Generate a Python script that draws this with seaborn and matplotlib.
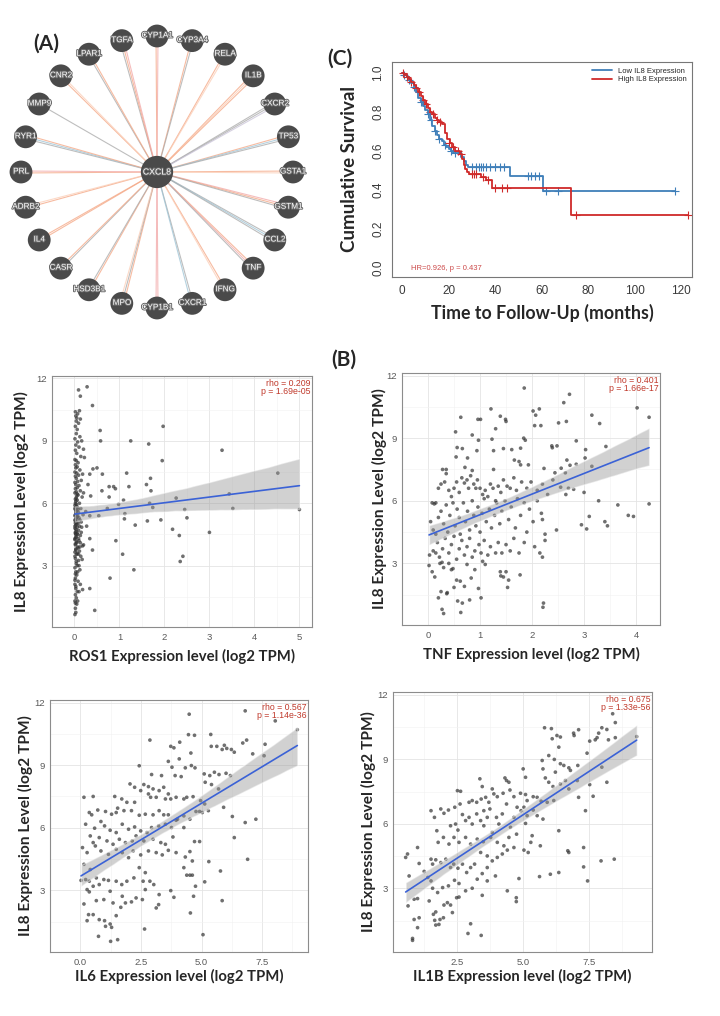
import numpy as np
import matplotlib
matplotlib.use("Agg")
import matplotlib.pyplot as plt
import matplotlib.patheffects as pe
import seaborn as sns

W, H = 720, 1016

# ---------------- (A) interaction network ----------------
hub = "CXCL8"
partners = ["CYP1A1", "CYP3A4", "RELA", "IL1B", "CXCR2", "TP53", "GSTA1",
            "GSTM1", "CCL2", "TNF", "IFNG", "CXCR1", "CYP1B1", "MPO",
            "HSD3B1", "CASR", "IL4", "ADRB2", "PRL", "RYR1", "MMP9", "CNR2",
            "LPAR1", "TGFA"]

# ---------------- (C) Kaplan-Meier ----------------
low_time = [0, 1, 2, 3, 4, 5, 6, 7, 8, 9, 10, 11, 12, 13, 14, 15, 16, 17, 18,
            19, 20, 21, 22, 25.5, 26.5, 27.5, 28.5, 46.5, 60.5, 117.5]
low_surv = [1.0, 0.99, 0.98, 0.965, 0.95, 0.93, 0.9, 0.87, 0.85, 0.83, 0.81,
            0.79, 0.76, 0.73, 0.7, 0.68, 0.66, 0.65, 0.63, 0.62, 0.61, 0.6,
            0.59, 0.57, 0.55, 0.53, 0.52, 0.47, 0.395, 0.395]
high_time = [0, 1, 2, 3, 4, 5, 6, 7, 8, 9, 10, 11, 12, 13, 14, 15, 16, 17,
             18.5, 19.5, 20.5, 21.5, 23, 25, 26, 26.5, 27, 28, 29, 34, 36,
             38.5, 72.5, 123]
high_surv = [1.0, 0.99, 0.98, 0.97, 0.955, 0.94, 0.925, 0.9, 0.88, 0.86, 0.84,
             0.82, 0.8, 0.79, 0.77, 0.76, 0.75, 0.74, 0.69, 0.66, 0.64, 0.62,
             0.6, 0.585, 0.56, 0.53, 0.51, 0.49, 0.48, 0.465, 0.45, 0.41,
             0.27, 0.27]
low_cens_t = [1, 3, 5, 8, 11, 12.5, 14, 16, 18.5, 21, 23, 30, 32, 33, 34, 35,
              36, 38, 40, 42, 44, 54, 55.5, 57, 59, 62, 67, 117.5]
low_cens_s = [0.99, 0.965, 0.93, 0.85, 0.79, 0.76, 0.7, 0.66, 0.63, 0.6, 0.59,
              0.52, 0.52, 0.52, 0.52, 0.52, 0.52, 0.52, 0.52, 0.52, 0.52,
              0.47, 0.47, 0.47, 0.47, 0.395, 0.395, 0.395]
high_cens_t = [0.5, 2, 4, 6, 7.5, 9, 10.5, 12, 13.5, 15, 16.5, 20, 22, 24, 25.5,
               30, 31, 32, 35, 37, 40, 43, 45, 75, 123]
high_cens_s = [1.0, 0.98, 0.955, 0.925, 0.9, 0.86, 0.84, 0.8, 0.79, 0.76, 0.75,
               0.64, 0.62, 0.6, 0.585, 0.48, 0.48, 0.48, 0.465, 0.45, 0.41,
               0.41, 0.41, 0.27, 0.27]

# ---------------- (B) correlations (IL8 vs gene, log2 TPM) ----------------
ros1_pts = [
    (0.01, 0.65), (0.03, 0.75), (0.02, 0.95), (0.05, 1.15), (0.01, 1.3),
    (0.04, 1.45), (0.02, 1.6), (0.06, 1.75), (0.03, 1.9), (0.01, 2.1),
    (0.08, 2.25), (0.02, 2.4), (0.05, 2.55), (0.03, 2.7), (0.12, 2.8),
    (0.01, 2.9), (0.06, 3.0), (0.04, 3.1), (0.09, 3.25), (0.02, 3.35),
    (0.14, 3.45), (0.05, 3.55), (0.01, 3.65), (0.11, 3.7), (0.03, 3.8),
    (0.07, 3.9), (0.18, 3.95), (0.02, 4.05), (0.05, 4.15), (0.1, 4.2),
    (0.01, 4.3), (0.04, 4.4), (0.13, 4.45), (0.06, 4.55), (0.02, 4.6),
    (0.09, 4.7), (0.03, 4.75), (0.16, 4.85), (0.01, 4.9), (0.05, 5.0),
    (0.08, 5.05), (0.02, 5.15), (0.12, 5.2), (0.04, 5.25), (0.06, 5.35),
    (0.01, 5.4), (0.19, 5.45), (0.03, 5.5), (0.09, 5.55), (0.05, 5.65),
    (0.02, 5.7), (0.14, 5.75), (0.07, 5.8), (0.01, 5.9), (0.04, 5.95),
    (0.11, 6.0), (0.03, 6.1), (0.06, 6.15), (0.02, 6.2), (0.17, 6.3),
    (0.05, 6.35), (0.08, 6.4), (0.01, 6.5), (0.04, 6.55), (0.13, 6.6),
    (0.02, 6.7), (0.06, 6.75), (0.1, 6.85), (0.03, 6.9), (0.01, 7.0),
    (0.07, 7.05), (0.15, 7.1), (0.04, 7.2), (0.02, 7.3), (0.09, 7.35),
    (0.05, 7.45), (0.01, 7.5), (0.12, 7.6), (0.03, 7.7), (0.06, 7.75),
    (0.02, 7.85), (0.08, 7.95), (0.04, 8.05), (0.01, 8.1), (0.14, 8.25),
    (0.05, 8.4), (0.02, 8.55), (0.1, 8.7), (0.03, 8.8), (0.07, 8.95),
    (0.01, 9.1), (0.12, 9.2), (0.04, 9.35), (0.06, 9.55), (0.02, 9.7),
    (0.09, 9.85), (0.04, 9.95), (0.13, 10.05), (0.03, 10.2), (0.07, 10.3),
    (0.02, 10.4), (0.11, 10.45), (0.05, 10.1), (0.16, 9.0), (0.2, 8.6),
    (0.18, 7.4), (0.2, 6.5), (0.15, 5.1), (0.2, 4.0), (0.17, 3.3),
    (0.13, 2.1), (0.07, 1.3), (0.1, 1.75), (0.03, 4.5), (0.06, 6.45),
    (0.02, 2.6), (0.04, 3.2), (0.01, 3.45), (0.06, 3.6), (0.03, 3.75),
    (0.08, 3.85), (0.02, 4.0), (0.05, 4.1), (0.01, 4.25), (0.03, 4.35),
    (0.07, 4.5), (0.02, 4.55), (0.04, 4.65), (0.01, 4.8), (0.06, 4.85),
    (0.03, 4.95), (0.02, 5.05), (0.05, 5.1), (0.01, 5.2), (0.04, 5.3),
    (0.07, 5.4), (0.02, 5.45), (0.03, 5.6), (0.01, 5.75), (0.05, 5.85),
    (0.02, 6.0), (0.04, 6.25), (0.01, 2.3), (0.03, 2.0), (0.02, 1.2),
    (0.1, 3.0), (0.12, 3.9), (0.09, 4.3), (0.11, 4.9), (0.08, 5.7),
    (0.1, 5.3), (0.13, 4.1), (0.15, 4.6), (0.07, 2.7), (0.09, 3.55),
    (0.28, 11.6), (0.09, 11.45), (0.13, 11.15), (0.4, 10.7), (0.57, 9.5),
    (0.58, 9.0), (1.25, 9.0), (1.65, 8.85), (1.97, 9.7), (1.95, 8.05),
    (3.28, 8.55), (4.52, 7.45), (1.16, 7.45), (0.62, 7.4), (0.41, 7.65),
    (0.5, 7.7), (0.34, 7.4), (1.69, 7.2), (1.6, 6.9), (0.77, 6.8),
    (0.87, 6.8), (0.91, 6.7), (1.21, 6.8), (1.7, 6.6), (0.61, 6.6),
    (0.77, 6.3), (0.36, 6.35), (2.26, 6.25), (3.44, 6.45), (1.09, 6.15),
    (0.98, 5.95), (1.74, 5.8), (1.67, 6.0), (2.45, 5.7), (3.52, 5.75),
    (5.0, 5.7), (0.73, 5.75), (1.12, 5.5), (0.54, 5.4), (2.5, 5.3),
    (1.11, 5.25), (1.62, 5.15), (1.92, 5.2), (1.35, 4.95), (0.34, 5.4),
    (2.18, 4.75), (2.33, 4.45), (0.92, 4.2), (3.0, 4.6), (0.34, 4.3),
    (0.4, 3.75), (1.07, 3.55), (2.41, 3.45), (2.35, 3.2), (1.32, 2.8),
    (0.79, 2.4), (0.34, 1.9), (0.18, 1.85), (0.45, 0.85), (0.25, 5.6),
    (0.3, 6.9), (0.22, 8.2), (0.27, 4.9),
]

tnf_pts = [
    (1.85, 11.4), (2.72, 11.1), (2.61, 10.7), (4.02, 10.45), (4.25, 10.0),
    (1.21, 10.4), (2.02, 10.3), (2.14, 10.4), (2.07, 10.1), (0.63, 10.0),
    (0.96, 9.9), (1.01, 9.9), (1.39, 10.05), (1.49, 9.9), (1.5, 9.8),
    (3.15, 10.1), (3.3, 9.7), (2.51, 9.73), (2.66, 9.8), (2.17, 9.6),
    (2.05, 9.6), (1.3, 9.45), (0.53, 9.3), (0.85, 9.15), (0.97, 8.9),
    (1.23, 8.95), (1.84, 9.0), (1.87, 8.9), (2.85, 8.87), (3.42, 8.6),
    (2.38, 8.63), (2.39, 8.54), (2.48, 8.63), (3.03, 8.45), (0.56, 8.55),
    (0.66, 8.5), (1.45, 8.5), (1.61, 8.45), (1.78, 8.52), (0.94, 8.4),
    (1.26, 8.4), (3.02, 8.05), (3.15, 7.65), (0.54, 8.1), (0.76, 8.05),
    (1.66, 7.95), (1.75, 7.88), (2.67, 7.95), (2.73, 7.7), (2.85, 7.75),
    (0.35, 7.5), (0.71, 7.6), (0.85, 7.45), (1.26, 7.5), (1.78, 7.72),
    (1.93, 7.72), (2.23, 7.55), (2.44, 7.34), (2.56, 7.56), (2.64, 7.34),
    (0.08, 5.9), (0.12, 5.85), (0.15, 5.9), (0.2, 6.6), (0.25, 6.8),
    (0.28, 7.5), (0.35, 7.3), (0.32, 6.9), (0.4, 6.5), (0.45, 6.2),
    (0.5, 6.6), (0.55, 6.9), (0.6, 6.4), (0.65, 7.1), (0.7, 6.85),
    (0.75, 7.0), (0.78, 6.6), (0.82, 7.2), (0.88, 6.8), (0.92, 6.6),
    (0.95, 7.0), (1.0, 6.6), (1.05, 6.3), (1.1, 6.5), (1.15, 6.2),
    (1.2, 6.8), (1.25, 6.6), (1.3, 6.0), (1.35, 6.7), (1.4, 6.4),
    (1.45, 7.0), (1.52, 6.7), (1.58, 6.6), (1.65, 7.1), (1.7, 6.5),
    (1.8, 6.9), (1.9, 6.6), (1.98, 6.9), (2.1, 6.5), (2.2, 6.8),
    (2.3, 6.3), (0.05, 5.0), (0.1, 4.6), (0.15, 4.4), (0.2, 5.2),
    (0.25, 5.5), (0.3, 4.9), (0.35, 5.8), (0.38, 4.5), (0.42, 5.3),
    (0.48, 5.9), (0.52, 4.8), (0.56, 5.6), (0.6, 5.2), (0.62, 4.4),
    (0.68, 5.9), (0.72, 5.0), (0.76, 5.5), (0.8, 4.6), (0.85, 6.0),
    (0.88, 5.3), (0.92, 4.8), (0.96, 5.7), (1.0, 4.5), (1.04, 5.4),
    (1.08, 6.1), (1.12, 5.0), (1.18, 5.6), (1.22, 4.7), (1.28, 5.3),
    (1.32, 5.9), (1.38, 4.9), (1.42, 5.5), (1.48, 6.0), (1.55, 5.1),
    (1.6, 5.7), (1.68, 4.7), (1.72, 6.1), (1.78, 5.3), (1.85, 5.9),
    (1.9, 4.5), (1.95, 5.6), (2.02, 5.0), (2.1, 6.0), (2.18, 5.4),
    (2.2, 5.1), (2.25, 4.4), (0.1, 3.6), (0.18, 4.0), (0.22, 3.3),
    (0.28, 3.7), (0.33, 4.2), (0.4, 3.5), (0.45, 3.9), (0.5, 4.3),
    (0.55, 3.2), (0.6, 3.7), (0.65, 4.1), (0.7, 3.4), (0.75, 3.8),
    (0.8, 4.2), (0.85, 3.3), (0.9, 3.6), (0.98, 3.9), (1.02, 3.5),
    (1.08, 4.1), (1.15, 3.4), (1.2, 3.8), (1.3, 3.5), (1.35, 4.0),
    (1.42, 3.5), (1.5, 3.9), (1.58, 3.6), (1.65, 4.2), (1.75, 3.5),
    (1.85, 4.0), (2.05, 3.8), (2.15, 3.5), (2.2, 3.3), (2.25, 4.1),
    (2.95, 4.85), (3.05, 4.65), (3.1, 5.25), (3.28, 6.0), (3.4, 5.0),
    (3.45, 4.8), (3.65, 5.8), (3.85, 5.3), (3.95, 5.25), (4.25, 5.85),
    (2.47, 4.6), (2.65, 6.3), (2.7, 6.6), (2.8, 6.55), (3.0, 6.4),
    (2.55, 6.65), (2.4, 7.0), (0.3, 0.6), (0.27, 0.8), (0.63, 0.65),
    (0.66, 1.1), (0.57, 1.2), (0.8, 1.25), (1.02, 1.35), (0.2, 1.35),
    (0.25, 1.65), (0.36, 1.55), (0.37, 1.6), (0.5, 1.85), (0.55, 2.2),
    (0.62, 2.15), (0.97, 1.8), (0.83, 2.3), (0.7, 1.9), (2.21, 0.9),
    (2.22, 1.1), (1.53, 1.85), (1.55, 2.2), (1.45, 2.35), (1.4, 2.4),
    (1.39, 2.6), (1.5, 2.6), (1.77, 2.45), (0.75, 2.95), (0.9, 2.7),
    (1.1, 2.95), (1.05, 3.1), (0.08, 2.6), (0.13, 2.35), (0.02, 2.9),
    (0.03, 3.4), (0.15, 3.5), (0.23, 3.0), (0.3, 2.8), (0.27, 3.05),
    (0.45, 2.7), (0.48, 2.75), (0.4, 3.0),
]

il6_pts = [
    (4.49, 11.44), (6.8, 11.6), (8.04, 11.12), (8.95, 10.7), (7.62, 10.0),
    (6.86, 10.2), (6.7, 10.06), (5.38, 10.47), (4.46, 10.46), (4.71, 10.43),
    (2.87, 10.2), (4.1, 10.1), (3.73, 9.9), (3.86, 9.83), (4.56, 9.58),
    (5.4, 9.9), (5.63, 9.9), (5.94, 9.95), (6.04, 9.8), (5.85, 9.75),
    (6.23, 9.75), (6.35, 9.62), (3.63, 9.18), (2.43, 8.97), (3.78, 8.9),
    (4.08, 9.3), (4.33, 8.87), (4.58, 8.98), (4.73, 8.87), (2.94, 8.55),
    (3.35, 8.5), (3.91, 8.5), (4.16, 8.45), (5.11, 8.58), (5.34, 8.5),
    (5.53, 8.66), (5.72, 8.55), (6.01, 8.61), (6.19, 8.5), (7.11, 9.54),
    (7.58, 9.45), (2.05, 8.1), (2.24, 7.94), (2.62, 8.07), (2.81, 7.97),
    (2.49, 7.78), (3.0, 7.86), (3.25, 7.78), (3.44, 7.94), (3.63, 7.62),
    (5.15, 8.18), (5.41, 8.07), (5.7, 7.86), (0.15, 7.46), (0.53, 7.5),
    (1.42, 7.5), (1.71, 7.38), (1.92, 7.22), (2.24, 7.22), (2.81, 7.62),
    (2.9, 7.46), (3.13, 7.46), (3.51, 7.38), (3.73, 7.38), (3.95, 7.46),
    (4.27, 7.38), (4.39, 7.46), (4.65, 7.49), (4.96, 7.3), (5.13, 7.14),
    (0.37, 6.73), (0.72, 6.85), (0.47, 6.62), (1.04, 6.78), (1.29, 6.65),
    (1.48, 6.73), (1.54, 6.94), (1.8, 6.82), (2.11, 6.82), (2.43, 6.6),
    (2.68, 6.65), (3.0, 6.62), (3.25, 6.82), (3.44, 6.62), (3.63, 6.62),
    (4.01, 6.41), (4.27, 6.57), (4.52, 6.41), (4.77, 6.78), (4.92, 6.78),
    (5.03, 6.73), (5.28, 6.82), (5.91, 6.98), (6.27, 6.54), (6.8, 6.25),
    (7.24, 6.41), (0.22, 6.17), (0.59, 5.98), (0.85, 6.3), (1.0, 6.09),
    (1.23, 5.88), (1.48, 5.77), (1.73, 6.17), (1.99, 5.93), (2.24, 6.04),
    (2.49, 5.85), (2.75, 5.77), (2.94, 6.01), (3.23, 6.09), (3.51, 6.17),
    (3.76, 6.01), (4.27, 6.01), (3.95, 6.36), (0.41, 5.61), (0.53, 5.29),
    (0.78, 5.53), (1.1, 5.37), (1.35, 5.21), (1.61, 5.45), (1.86, 5.29),
    (2.14, 5.37), (2.3, 5.61), (2.62, 5.37), (3.0, 5.45), (3.32, 5.29),
    (3.51, 5.21), (3.82, 5.56), (4.71, 5.34), (4.92, 5.34), (0.09, 5.05),
    (0.28, 4.81), (0.62, 5.13), (0.85, 4.89), (1.16, 4.73), (1.48, 4.97),
    (1.73, 4.81), (1.99, 4.57), (2.18, 4.89), (2.49, 4.7), (2.81, 4.89),
    (3.13, 4.81), (3.38, 4.7), (3.63, 4.92), (3.95, 4.81), (4.52, 4.86),
    (4.62, 4.41), (4.33, 4.6), (5.3, 4.38), (6.9, 4.49), (4.27, 4.09),
    (4.39, 3.73), (4.52, 3.73), (4.62, 3.73), (5.78, 3.93), (6.35, 5.53),
    (0.15, 4.25), (0.41, 4.0), (0.22, 3.52), (0.03, 3.48), (0.37, 3.44),
    (0.66, 3.6), (0.53, 3.2), (0.28, 3.04), (0.37, 2.93), (0.78, 3.28),
    (0.97, 3.52), (1.16, 3.48), (1.48, 3.44), (1.71, 3.28), (1.92, 3.44),
    (2.21, 3.6), (2.43, 4.09), (2.68, 3.85), (2.59, 3.44), (2.87, 3.44),
    (3.03, 3.28), (2.68, 3.04), (3.73, 2.99), (3.86, 2.67), (3.25, 2.8),
    (2.56, 2.56), (2.11, 2.45), (1.86, 2.4), (1.67, 2.19), (1.35, 2.4),
    (1.23, 2.96), (0.97, 2.56), (0.66, 2.51), (0.15, 2.35), (0.34, 1.84),
    (0.53, 1.84), (0.28, 1.55), (0.78, 1.6), (1.0, 1.55), (1.48, 1.79),
    (1.23, 1.39), (1.29, 1.23), (1.04, 1.28), (0.75, 0.8), (1.25, 0.56),
    (1.54, 0.64), (2.65, 1.15), (3.13, 2.16), (3.23, 2.32), (4.54, 1.92),
    (5.06, 0.88), (5.13, 3.41), (4.67, 2.72), (5.85, 2.51), (4.75, 3.2),
    (2.3, 2.64), (1.73, 2.72),
]

il1b_pts = [
    (8.39, 11.11), (8.49, 10.7), (5.81, 10.46), (6.07, 10.42), (6.1, 9.95),
    (6.28, 10.1), (6.41, 10.03), (6.35, 9.56), (6.91, 10.21), (6.93, 10.1),
    (7.1, 10.37), (7.98, 10.46), (8.17, 10.38), (7.86, 10.21), (7.8, 10.0),
    (7.52, 9.84), (7.73, 9.9), (8.23, 9.9), (8.49, 10.0), (7.42, 9.28),
    (7.07, 8.71), (5.72, 8.94), (5.75, 8.55), (5.97, 9.17), (6.18, 8.99),
    (6.41, 8.79), (6.54, 8.71), (6.73, 8.6), (6.79, 8.48), (6.22, 8.4),
    (5.84, 8.13), (5.97, 7.93), (6.13, 7.73), (6.41, 7.85), (6.6, 8.01),
    (6.73, 7.62), (7.05, 8.01), (7.52, 7.82), (7.65, 7.28), (7.1, 7.23),
    (8.17, 7.93), (7.98, 8.63), (5.0, 8.55), (5.09, 8.16), (3.36, 8.09),
    (4.31, 8.13), (4.37, 8.01), (4.46, 7.93), (2.51, 7.54), (2.63, 7.51),
    (3.45, 7.73), (3.83, 7.62), (3.89, 7.39), (4.02, 7.26), (4.24, 7.42),
    (4.5, 7.57), (4.65, 7.26), (4.9, 7.42), (5.09, 7.36), (5.15, 7.08),
    (5.38, 7.26), (5.53, 7.23), (5.68, 7.05), (5.91, 7.0), (6.16, 7.08),
    (7.36, 6.61), (7.29, 4.9), (7.95, 4.28), (8.45, 4.36), (6.03, 3.66),
    (6.35, 3.74), (5.62, 3.55), (7.29, 4.0), (7.44, 3.35), (6.69, 4.75),
    (6.73, 4.67), (6.35, 5.68), (5.65, 4.98), (5.19, 4.67), (5.03, 4.78),
    (5.29, 5.14), (5.34, 5.45), (4.75, 5.52), (4.84, 3.46), (4.74, 2.57),
    (4.74, 2.39), (4.4, 2.89), (3.95, 3.58), (3.64, 3.35), (3.83, 4.28),
    (3.45, 2.68), (3.41, 0.82), (2.91, 0.91), (3.01, 1.36), (2.48, 2.57),
    (2.57, 2.6), (2.25, 2.23), (2.32, 1.88), (2.13, 2.34), (2.0, 2.23),
    (1.69, 1.91), (1.65, 1.52), (1.81, 1.33), (1.69, 1.3), (1.6, 1.8),
    (1.85, 1.56), (1.98, 1.64), (1.06, 1.64), (1.0, 1.18), (0.81, 0.68),
    (0.81, 0.59), (0.87, 1.56), (0.64, 2.19), (0.87, 2.5), (1.0, 2.53),
    (1.44, 2.42), (0.55, 4.44), (0.62, 4.6), (0.68, 3.58), (1.0, 4.9),
    (1.06, 4.16), (1.25, 3.79), (1.39, 3.51), (1.51, 3.35), (1.57, 3.01),
    (1.76, 2.81), (1.95, 3.04), (2.17, 3.12), (2.4, 3.38), (2.57, 3.23),
    (2.82, 2.89), (3.07, 3.01), (3.26, 3.43), (3.45, 3.69), (3.64, 3.97),
    (1.51, 4.36), (1.57, 4.13), (1.69, 4.33), (1.88, 4.2), (2.07, 4.36),
    (2.25, 3.97), (2.37, 4.13), (2.53, 3.94), (2.7, 4.13), (2.86, 3.74),
    (3.01, 3.97), (3.16, 4.13), (3.39, 4.67), (3.64, 4.51), (4.02, 4.44),
    (4.21, 4.6), (4.4, 4.78), (4.65, 4.9), (1.78, 5.14), (1.98, 5.37),
    (2.19, 5.06), (2.38, 5.37), (2.57, 5.14), (2.82, 5.37), (3.01, 5.06),
    (3.26, 5.29), (3.49, 5.17), (3.77, 5.37), (4.02, 5.14), (4.27, 4.98),
    (4.46, 5.37), (1.51, 6.61), (1.64, 6.3), (1.73, 5.68), (1.88, 6.69),
    (2.0, 6.49), (2.17, 6.64), (2.25, 5.91), (2.44, 5.99), (2.53, 5.71),
    (2.7, 6.43), (2.82, 6.15), (2.95, 6.3), (3.07, 5.99), (3.24, 6.46),
    (3.39, 6.15), (3.51, 5.91), (3.64, 6.3), (3.74, 6.69), (3.83, 5.6),
    (3.99, 6.3), (4.08, 5.99), (4.21, 6.46), (4.37, 6.92), (4.52, 5.84),
    (4.65, 6.3), (4.77, 6.77), (4.92, 6.61), (5.03, 6.77), (5.15, 6.38),
    (5.38, 6.64), (5.53, 6.38), (5.75, 6.22), (5.09, 6.02), (2.95, 7.0),
    (3.07, 7.08), (3.24, 7.0), (3.41, 7.15), (3.58, 7.23), (3.7, 7.0),
    (2.41, 6.77), (2.61, 6.92), (3.51, 6.61), (9.3, 10.05),
]

panels_b = [
    ("ROS1", ros1_pts, "rho = 0.209\np = 1.69e-05", [0, 1, 2, 3, 4, 5],
     ["0", "1", "2", "3", "4", "5"], (-0.25, 5.28)),
    ("TNF", tnf_pts, "rho = 0.401\np = 1.66e-17", [0, 1, 2, 3, 4],
     ["0", "1", "2", "3", "4"], (-0.16, 4.46)),
    ("IL6", il6_pts, "rho = 0.567\np = 1.14e-36", [0, 2.5, 5, 7.5],
     ["0.0", "2.5", "5.0", "7.5"], (-0.42, 9.39)),
    ("IL1B", il1b_pts, "rho = 0.675\np = 1.33e-56", [2.5, 5, 7.5],
     ["2.5", "5.0", "7.5"], (0.07, 9.88)),
]
# pixel boxes (left, top, right, bottom) and label pads (x, y)
boxes_b = [(52, 376, 312, 627), (402, 373, 660, 625),
           (50, 700, 308, 952), (393, 692, 652, 952)]
pads_b = [(5, 5), (5, -0.5), (2, 0.5), (2, 0.5)]

sns.set_style("white")
plt.rcParams["font.family"] = ["Liberation Sans", "DejaVu Sans"]
BOLD = ["Lato", "DejaVu Sans"]

fig = plt.figure(figsize=(W / 100, H / 100), dpi=100)


def px_axes(left, top, right, bottom):
    return fig.add_axes([left / W, 1 - bottom / H, (right - left) / W,
                         (bottom - top) / H])


# ---------------- draw (A) ----------------
ax_a = px_axes(0, 20, 320, 330)
ax_a.set_xlim(0, 320)
ax_a.set_ylim(330, 20)
ax_a.axis("off")
cx, cy, rad = 157, 172, 136
ang = np.deg2rad(90 - 15 * np.arange(len(partners)))
nx = cx + rad * np.cos(ang)
ny = cy - rad * np.sin(ang)
edge_pal = {"o": "#f4a582", "p": "#fbcdb5", "g": "#a8a8a8",
            "b": "#9cc3d5", "r": "#f2a7a7", "l": "#c9c3d8"}
edge_codes = ["or", "og", "op", "opo", "ggl", "obg", "op", "rog", "gbg",
              "org", "op", "gb", "rr", "ogp", "og", "go", "oo", "op", "or",
              "gbo", "g", "op", "go", "gor"]
for i in range(len(partners)):
    dx, dy = nx[i] - cx, ny[i] - cy
    L = np.hypot(dx, dy)
    px, py = -dy / L, dx / L
    codes = edge_codes[i]
    offs = (np.arange(len(codes)) - (len(codes) - 1) / 2) * 2.0
    for c, o in zip(codes, offs):
        ax_a.plot([cx, nx[i] + px * o], [cy, ny[i] + py * o],
                  color=edge_pal[c], lw=0.8, alpha=0.75, zorder=1)
sns.scatterplot(x=nx, y=ny, s=270, color="#4a4a4a", edgecolor="none",
                ax=ax_a, zorder=3, legend=False)
sns.scatterplot(x=[cx], y=[cy], s=540, color="#4a4a4a", edgecolor="none",
                ax=ax_a, zorder=3, legend=False)
stroke = [pe.withStroke(linewidth=1.4, foreground="#6a6a6a")]
for name, x, y in zip(partners, nx, ny):
    ax_a.text(x, y, name, ha="center", va="center", fontsize=5.9,
              color="white", zorder=4, path_effects=stroke)
ax_a.text(cx, cy, hub, ha="center", va="center", fontsize=6.3,
          color="white", zorder=4, path_effects=stroke)

fig.text(46 / W, 1 - 44 / H, "(A)", ha="center", va="center", fontsize=15,
         fontweight="bold", family=BOLD)
fig.text(340 / W, 1 - 59 / H, "(C)", ha="center", va="center", fontsize=15,
         fontweight="bold", family=BOLD)
fig.text(344 / W, 1 - 360 / H, "(B)", ha="center", va="center", fontsize=15,
         fontweight="bold", family=BOLD)

# ---------------- draw (C) ----------------
ax_c = px_axes(392, 62, 692, 277)
blue, red = "#3f7fb9", "#cf2a2a"
sns.lineplot(x=low_time, y=low_surv, drawstyle="steps-post", color=blue,
             lw=1.3, ax=ax_c, label="Low IL8 Expression", estimator=None)
sns.lineplot(x=high_time, y=high_surv, drawstyle="steps-post", color=red,
             lw=1.3, ax=ax_c, label="High IL8 Expression", estimator=None)
sns.scatterplot(x=low_cens_t, y=low_cens_s, marker="+", s=28, color=blue,
                linewidth=0.8, ax=ax_c, legend=False)
sns.scatterplot(x=high_cens_t, y=high_cens_s, marker="+", s=28, color=red,
                linewidth=0.8, ax=ax_c, legend=False)
ax_c.set_xlim(-4.3, 124.7)
ax_c.set_ylim(-0.046, 1.056)
ax_c.set_xticks(range(0, 121, 20))
ax_c.set_yticks([0, 0.2, 0.4, 0.6, 0.8, 1.0])
ax_c.set_yticklabels(["0.0", "0.2", "0.4", "0.6", "0.8", "1.0"],
                     rotation=90, va="center")
for s in ax_c.spines.values():
    s.set_color("#777777")
    s.set_linewidth(0.8)
ax_c.tick_params(length=3.5, width=0.7, color="#666666", labelsize=8.5,
                 labelcolor="#3a3a3a", pad=2)
ax_c.set_xlabel("Time to Follow-Up (months)", fontsize=12.8,
                fontweight="bold", family=BOLD, labelpad=5)
ax_c.set_ylabel("Cumulative Survival", fontsize=13.5, fontweight="bold",
                family=BOLD, labelpad=10)
ax_c.legend(loc="upper right", fontsize=5.5, frameon=False, handlelength=2.6,
            borderaxespad=0.3, labelspacing=0.15)
ax_c.text(4, 0.0, "HR=0.926, p = 0.437", color="#cc4a4a", fontsize=5.5,
          va="center")

# ---------------- draw (B) ----------------
for (gene, pts, note, xt, xtl, xlim), box, (xpad, ypad) in zip(
        panels_b, boxes_b, pads_b):
    ax = px_axes(*box)
    arr = np.array(pts)
    sns.regplot(x=arr[:, 0], y=arr[:, 1], ax=ax, ci=95, seed=0,
                scatter_kws=dict(s=7, color="#333333", alpha=0.7,
                                 edgecolor="none"),
                line_kws=dict(color="#3b62d6", lw=1.2))
    band = ax.collections[-1]
    band.set_facecolor("#9a9a9a")
    band.set_alpha(0.45)
    ax.set_xlim(*xlim)
    ax.set_ylim(0.05, 12.12)
    ax.set_xticks(xt)
    ax.set_xticklabels(xtl)
    ax.set_yticks([3, 6, 9, 12])
    step = xt[1] - xt[0]
    ax.set_xticks(np.arange(xt[0] - step / 2, xlim[1], step), minor=True)
    ax.set_yticks([1.5, 4.5, 7.5, 10.5], minor=True)
    ax.grid(which="major", color="#e4e4e4", lw=0.6)
    ax.grid(which="minor", color="#f1f1f1", lw=0.4)
    ax.set_axisbelow(True)
    for s in ax.spines.values():
        s.set_color("#8c8c8c")
        s.set_linewidth(0.8)
    ax.tick_params(which="major", length=2.5, width=0.6, color="#8c8c8c",
                   labelsize=6.8, labelcolor="#5a5a5a", pad=1.5)
    ax.tick_params(which="minor", length=0)
    ax.set_xlabel(f"{gene} Expression level (log2 TPM)", fontsize=10.7,
                  fontweight="bold", family=BOLD, labelpad=xpad)
    ax.set_ylabel("IL8 Expression Level (log2 TPM)", fontsize=11.2,
                  fontweight="bold", family=BOLD, labelpad=ypad)
    ax.text(0.995, 0.99, note, transform=ax.transAxes, ha="right", va="top",
            fontsize=6.3, color="#c0392b", linespacing=0.95)

fig.savefig("out.png", dpi=100)
